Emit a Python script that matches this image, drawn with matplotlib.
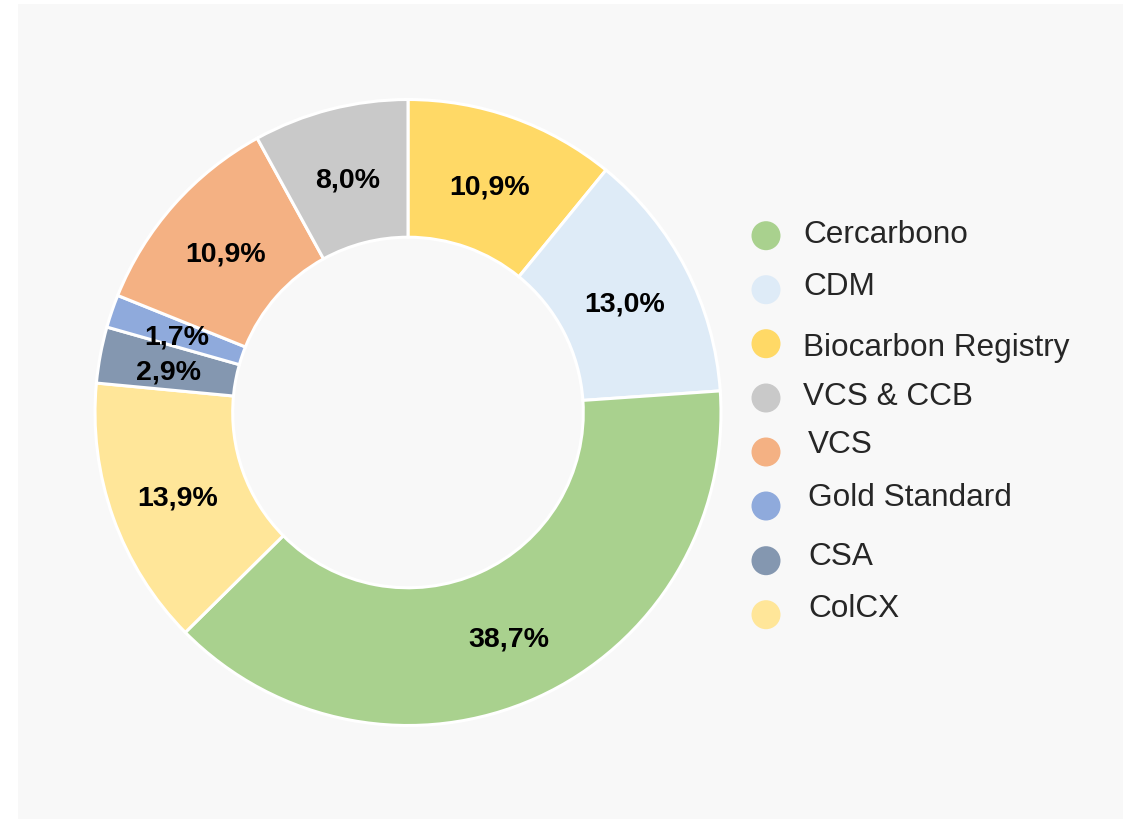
import matplotlib
matplotlib.use("Agg")
import matplotlib.pyplot as plt
import matplotlib.transforms as mtransforms
from matplotlib.patches import Rectangle, Ellipse

plt.rcParams['font.family'] = ['Liberation Sans', 'DejaVu Sans']

# wedges in clockwise order from 12 o'clock
slices = ["Biocarbon Registry", "CDM", "Cercarbono", "ColCX", "CSA",
          "Gold Standard", "VCS", "VCS & CCB"]
shares = [10.9, 13.0, 38.7, 13.9, 2.9, 1.7, 10.9, 8.0]
slice_colors = ["#ffd966", "#deebf7", "#a9d18e", "#ffe699", "#8497b0",
                "#8faadc", "#f4b183", "#c9c9c9"]

# legend order as shown on the right
legend_names = ["Cercarbono", "CDM", "Biocarbon Registry", "VCS & CCB", "VCS",
                "Gold Standard", "CSA", "ColCX"]

W, H = 1123, 820
fig = plt.figure(figsize=(W / 100, H / 100), dpi=100)
fig.patch.set_facecolor("white")
fig.patches.append(Rectangle((18 / W, 0), 1 - 18 / W, (H - 5) / H,
                             transform=fig.transFigure, facecolor="#f8f8f8",
                             edgecolor="none", zorder=-5))

cx, cy, r = 408, 413.5, 313
ax = fig.add_axes([(cx - r) / W, (H - cy - r) / H, 2 * r / W, 2 * r / H])
ax.set_facecolor("none")
ax.set_zorder(3)
wedges, _, autotexts = ax.pie(
    shares, colors=slice_colors, startangle=90, counterclock=False,
    radius=1.0, pctdistance=0.78,
    autopct=lambda p: f"{p:.1f}%".replace(".", ","),
    wedgeprops=dict(width=0.44, edgecolor="white", linewidth=2.2),
    textprops=dict(fontsize=20.5, fontweight="bold", color="black"))
ax.set_xlim(-1, 1)
ax.set_ylim(-1, 1)
# labels sit a touch lower in the original
shift = mtransforms.ScaledTranslation(0, -3.5 / 100, fig.dpi_scale_trans)
for t in autotexts:
    t.set_transform(t.get_transform() + shift)

# hand-made legend
color_of = dict(zip(slices, slice_colors))
marker_y = [236.7, 290.7, 344.7, 399, 453, 507, 561.7, 615.7]
text_x = [803, 803, 803, 803, 808, 808, 808, 808]
text_base = [243.3, 295, 356, 405, 453.3, 506, 565, 616.7]
for name, my, tx, ty in zip(legend_names, marker_y, text_x, text_base):
    fig.patches.append(Ellipse(
        (766 / W, 1 - my / H), 29 / W, 29 / H, transform=fig.transFigure,
        facecolor=color_of[name], edgecolor="none", zorder=2))
    fig.text(tx / W, 1 - ty / H, name, fontsize=22.7, color="#262626",
             va="baseline", ha="left")

fig.savefig("out.png", dpi=100, facecolor=fig.get_facecolor())
